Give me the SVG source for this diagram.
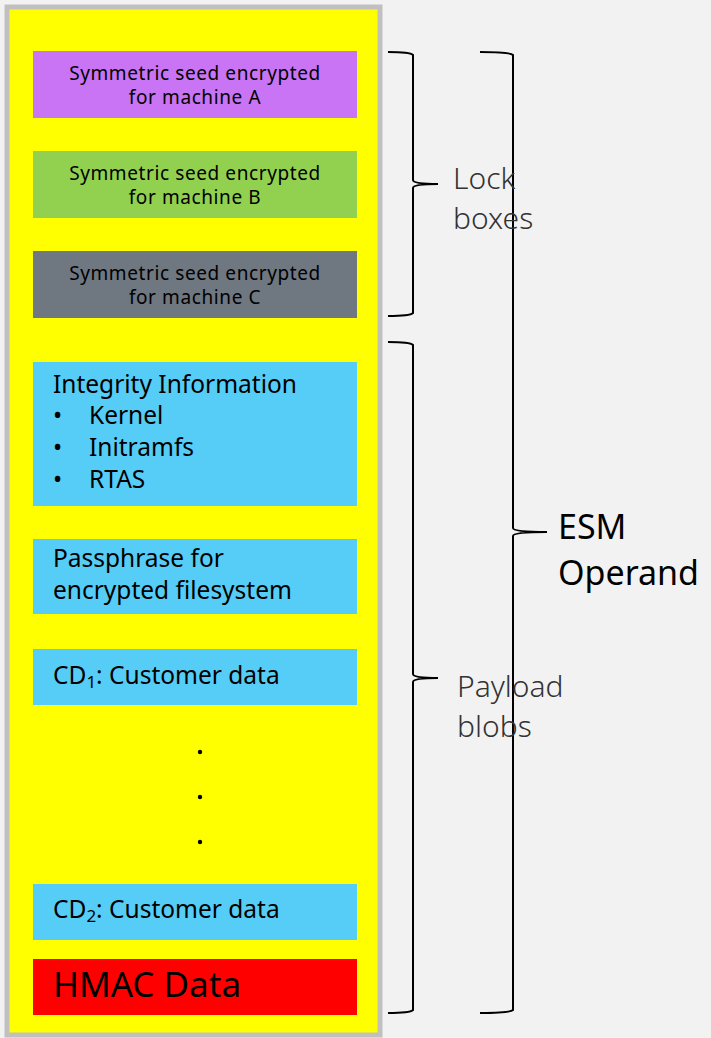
<svg xmlns="http://www.w3.org/2000/svg" width="711" height="1038" viewBox="0 0 711 1038">
<style>
text{font-family:"Noto Sans","Open Sans","Liberation Sans",sans-serif;fill:#000}
.sm{font-size:19px;letter-spacing:0.6px}
.md{font-size:24.5px}
.lbl{font-size:30px;font-weight:300;fill:#333}
.esm{font-size:34px}
.hm{font-size:35px}
.br{fill:none;stroke:#000;stroke-width:2}
</style>
<rect x="0" y="0" width="711" height="1038" fill="#f2f2f2"/>
<g id="container"><rect x="7" y="7" width="373" height="1028" fill="#ffff00" stroke="#c0c0c0" stroke-width="5"/></g>
<g id="lockA"><rect x="33" y="51" width="324" height="67" fill="#c874f4"/><text class="sm" x="195" y="80" text-anchor="middle">Symmetric seed encrypted</text><text class="sm" x="195" y="104" text-anchor="middle">for machine A</text></g>
<g id="lockB"><rect x="33" y="151" width="324" height="67" fill="#92d050"/><text class="sm" x="195" y="180" text-anchor="middle">Symmetric seed encrypted</text><text class="sm" x="195" y="204" text-anchor="middle">for machine B</text></g>
<g id="lockC"><rect x="33" y="251" width="324" height="67" fill="#6f7780"/><text class="sm" x="195" y="280" text-anchor="middle">Symmetric seed encrypted</text><text class="sm" x="195" y="304" text-anchor="middle">for machine C</text></g>
<g id="integrity"><rect x="33" y="362" width="324" height="144" fill="#56cdf7"/>
<text class="md" x="53" y="393">Integrity Information</text>
<text class="md" x="53" y="424">•</text><text class="md" x="89" y="424">Kernel</text>
<text class="md" x="53" y="456">•</text><text class="md" x="89" y="456">Initramfs</text>
<text class="md" x="53" y="488">•</text><text class="md" x="89" y="488">RTAS</text></g>
<g id="passphrase"><rect x="33" y="539" width="324" height="75" fill="#56cdf7"/><text class="md" x="53" y="567">Passphrase for</text><text class="md" x="53" y="599">encrypted filesystem</text></g>
<g id="cd1"><rect x="33" y="649" width="324" height="56" fill="#56cdf7"/><text class="md" x="53" y="684">CD<tspan font-size="17" dy="4">1</tspan><tspan dy="-4">: Customer data</tspan></text></g>
<g id="dots"><circle cx="200" cy="752" r="2.2"/><circle cx="200" cy="797" r="2.2"/><circle cx="200" cy="842" r="2.2"/></g>
<g id="cd2"><rect x="33" y="884" width="324" height="56" fill="#56cdf7"/><text class="md" x="53" y="918">CD<tspan font-size="17" dy="4">2</tspan><tspan dy="-4">: Customer data</tspan></text></g>
<g id="hmac"><rect x="33" y="959" width="324" height="56" fill="#ff0000"/><text class="hm" x="53" y="997">HMAC Data</text></g>
<g id="connectors">
<path class="br" d="M388 52 Q410 52 413 55 L413 180 Q413 184 438 184 Q413 184 413 188 L413 313 Q410 316 388 316"/>
<path class="br" d="M388 342 Q410 342 413 345 L413 674 Q413 678 438 678 Q413 678 413 682 L413 1010 Q410 1013 388 1013"/>
<path class="br" d="M480 52 Q510 52 513 55 L513 528 Q513 532 547 532 Q513 532 513 536 L513 1010 Q510 1013 480 1013"/>
</g>
<g id="labels">
<text class="lbl" x="453" y="189">Lock</text><text class="lbl" x="453" y="229">boxes</text>
<text class="lbl" x="457" y="697">Payload</text><text class="lbl" x="457" y="737">blobs</text>
<text class="esm" x="558" y="539">ESM</text><text class="esm" x="558" y="585">Operand</text>
</g>
</svg>
